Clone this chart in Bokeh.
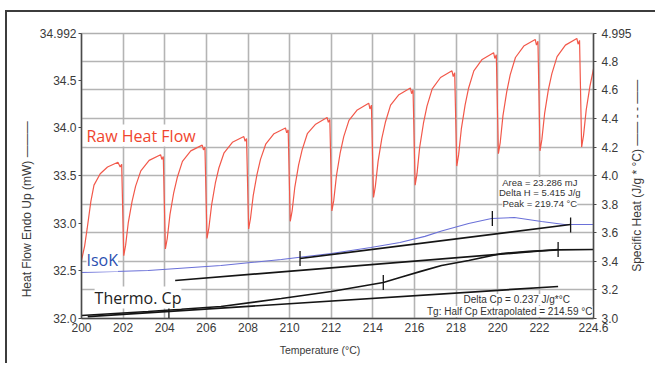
import numpy as np
from bokeh.plotting import figure
from bokeh.models import Range1d, LinearAxis, FixedTicker, Label, Grid
from bokeh.embed import file_html
from bokeh.resources import INLINE

# ---------------- data ----------------
x_ticks = [200, 202, 204, 206, 208, 210, 212, 214, 216, 218, 220, 222, 224.6]
x_labels = ["200", "202", "204", "206", "208", "210", "212", "214", "216", "218", "220", "222", "224.6"]
hf_ticks = [32.0, 32.5, 33.0, 33.5, 34.0, 34.5, 34.992]
hf_labels = ["32.0", "32.5", "33.0", "33.5", "34.0", "34.5", "34.992"]
cp_ticks = [3.0, 3.2, 3.4, 3.6, 3.8, 4.0, 4.2, 4.4, 4.6, 4.8, 4.995]
cp_labels = ["3.0", "3.2", "3.4", "3.6", "3.8", "4.0", "4.2", "4.4", "4.6", "4.8", "4.995"]
cp_grid = [3.2, 3.4, 3.6, 3.8, 4.0, 4.2, 4.4, 4.6, 4.8]

raw_temp = [
    200.00, 200.15, 200.27, 200.45, 200.60, 200.90, 201.25, 201.75, 201.86, 201.93,
    202.03, 202.12, 202.25, 202.43, 202.60, 202.85, 203.25, 203.80, 203.86, 203.93,
    204.03, 204.12, 204.25, 204.43, 204.60, 204.85, 205.25, 205.80, 205.86, 205.93,
    206.03, 206.12, 206.25, 206.43, 206.60, 206.85, 207.25, 207.80, 207.86, 207.93,
    208.03, 208.12, 208.25, 208.43, 208.60, 208.85, 209.25, 209.80, 209.86, 209.93,
    210.03, 210.12, 210.25, 210.43, 210.60, 210.85, 211.25, 211.80, 211.86, 211.93,
    212.03, 212.12, 212.25, 212.43, 212.60, 212.85, 213.25, 213.80, 213.86, 213.93,
    214.03, 214.12, 214.25, 214.43, 214.60, 214.85, 215.25, 215.80, 215.86, 215.93,
    216.03, 216.12, 216.25, 216.43, 216.60, 216.85, 217.25, 217.80, 217.86, 217.93,
    218.03, 218.12, 218.25, 218.43, 218.60, 218.85, 219.25, 219.80, 219.86, 219.93,
    220.03, 220.12, 220.25, 220.43, 220.60, 220.85, 221.25, 221.80, 221.86, 221.93,
    222.03, 222.12, 222.25, 222.43, 222.60, 222.85, 223.25, 223.80, 223.86, 223.93,
    224.03, 224.12, 224.25, 224.43, 224.60,
]
raw_heat_flow = [
    32.61, 32.76, 32.94, 33.23, 33.40, 33.52, 33.59, 33.64, 33.59, 33.62,
    32.66, 32.77, 33.01, 33.23, 33.39, 33.55, 33.66, 33.72, 33.67, 33.70,
    32.73, 32.84, 33.09, 33.32, 33.48, 33.65, 33.76, 33.82, 33.77, 33.80,
    32.84, 32.95, 33.19, 33.42, 33.58, 33.74, 33.85, 33.91, 33.86, 33.89,
    32.94, 33.05, 33.29, 33.51, 33.67, 33.83, 33.94, 34.00, 33.95, 33.98,
    33.02, 33.13, 33.38, 33.61, 33.77, 33.94, 34.04, 34.11, 34.06, 34.09,
    33.13, 33.24, 33.50, 33.74, 33.91, 34.08, 34.19, 34.26, 34.20, 34.24,
    33.27, 33.39, 33.65, 33.89, 34.06, 34.24, 34.35, 34.42, 34.36, 34.40,
    33.40, 33.52, 33.80, 34.05, 34.23, 34.41, 34.53, 34.60, 34.54, 34.58,
    33.60, 33.72, 33.99, 34.24, 34.42, 34.60, 34.72, 34.79, 34.73, 34.77,
    33.73, 33.85, 34.13, 34.38, 34.56, 34.74, 34.86, 34.93, 34.87, 34.91,
    33.76, 33.88, 34.15, 34.40, 34.57, 34.75, 34.87, 34.94, 34.88, 34.92,
    33.80, 33.92, 34.19, 34.44, 34.62,
]

isok_temp = [200.0, 203.2, 206.7, 209.6, 212.0, 213.9, 215.3, 216.5, 217.3, 218.6,
             219.7, 220.8, 222.1, 223.2, 224.6]
isok_cp = [3.322, 3.336, 3.371, 3.413, 3.455, 3.497, 3.532, 3.575, 3.612, 3.665,
           3.700, 3.707, 3.679, 3.658, 3.658]

thermo_temp = [200.0, 203.2, 206.7, 209.6, 212.0, 214.5, 215.3, 216.3, 217.3, 218.6,
               220.2, 221.5, 222.9, 224.6]
thermo_cp = [3.021, 3.049, 3.084, 3.140, 3.189, 3.252, 3.287, 3.330, 3.371, 3.406,
             3.455, 3.470, 3.480, 3.483]

tan_upper_temp = [210.5, 223.5]
tan_upper_cp = [3.420, 3.658]
tan_mid_temp = [204.5, 222.9]
tan_mid_cp = [3.266, 3.483]
tan_low_temp = [200.3, 222.9]
tan_low_cp = [3.013, 3.224]

mark_temp = [204.2, 210.5, 214.5, 219.74, 222.9, 223.5]
mark_cp = [3.049, 3.420, 3.252, 3.700, 3.483, 3.655]

x_title = "Temperature (\u00b0C)"
left_title = "Heat Flow Endo Up (mW)  \u2014\u2014\u2014"
right_title = "Specific Heat (J/g * \u00b0C) \u2014\u2014 - - \u2014\u2014"

# ---------------- figure ----------------
FONT = "Liberation Sans"
NB = "\u00a0"
p = figure(
    frame_width=512, frame_height=285,
    min_border_left=74, min_border_right=62, min_border_top=21, min_border_bottom=45,
    x_range=Range1d(200, 224.6), y_range=Range1d(32.0, 34.992),
    output_backend="svg", toolbar_location=None,
)
p.styles = {"margin-left": "5px", "margin-top": "10px",
            "border-left": "2px solid #3c3c3c", "border-top": "2px solid #3c3c3c"}
p.extra_y_ranges = {"right": Range1d(3.0, 4.995)}
p.background_fill_color = "white"
p.border_fill_color = "white"
p.outline_line_color = "#b0b0b0"
p.outline_line_width = 1.5

# grids
p.xgrid.ticker = FixedTicker(ticks=x_ticks)
p.xgrid.grid_line_color = "#b4b4b4"
p.xgrid.grid_line_width = 1.6
p.ygrid.visible = False
g = Grid(dimension=1, ticker=FixedTicker(ticks=cp_grid), y_range_name="right",
         grid_line_color="#b4b4b4", grid_line_width=1.6)
p.add_layout(g)

def style_axis(ax, ticks, labels, standoff):
    ax.ticker = FixedTicker(ticks=ticks)
    ax.major_label_overrides = dict(zip(ticks, labels))
    ax.axis_line_color = "#4a4a4a"
    ax.axis_line_width = 1.5
    ax.major_tick_line_color = "#4a4a4a"
    ax.major_tick_out = 3
    ax.major_tick_in = 0
    ax.minor_tick_line_color = None
    ax.major_label_text_font = FONT
    ax.major_label_text_font_size = "12px"
    ax.major_label_text_color = "#3a3a3a"
    ax.major_label_standoff = standoff
    ax.axis_label_text_font = FONT
    ax.axis_label_text_font_style = "normal"
    ax.axis_label_text_color = "#3a3a3a"
    ax.axis_label_text_font_size = "12px"

xa = p.xaxis[0]
style_axis(xa, x_ticks, x_labels, 4)
xa.major_tick_out = 0
xa.axis_label = x_title + NB * 12
xa.axis_label_text_font_size = "10.5px"
xa.axis_label_standoff = 9

ya = p.yaxis[0]
style_axis(ya, hf_ticks, hf_labels, 2)
ya.axis_label = left_title + NB * 19
ya.axis_label_standoff = 3

ax_r = LinearAxis(y_range_name="right")
style_axis(ax_r, cp_ticks, cp_labels, 5)
ax_r.axis_label = NB * 14 + right_title
ax_r.axis_label_orientation = np.pi / 2
ax_r.axis_label_align = "start"
ax_r.axis_label_standoff = 2
p.add_layout(ax_r, "right")

# curves
p.line(raw_temp, raw_heat_flow, line_color="#f2584a", line_width=1.2)
p.line(isok_temp, isok_cp, y_range_name="right", line_color="#6a70d8", line_width=1.1)
p.line(tan_upper_temp, tan_upper_cp, y_range_name="right", line_color="#151515", line_width=1.7)
p.line(tan_mid_temp, tan_mid_cp, y_range_name="right", line_color="#151515", line_width=1.7)
p.line(tan_low_temp, tan_low_cp, y_range_name="right", line_color="#151515", line_width=1.7)
p.line(thermo_temp, thermo_cp, y_range_name="right", line_color="#151515", line_width=1.7)
p.scatter(mark_temp, mark_cp, y_range_name="right", marker="dash", angle=np.pi / 2,
          size=15, line_color="#151515", line_width=1.3)

# text
def lab(x, y, t, size, color, font=FONT, align="left", rng="default", bg="white"):
    kw = dict(x=x, y=y, text=t, text_font=font, text_font_size=size, text_color=color,
              text_align=align, text_baseline="middle", background_fill_color=bg)
    if rng != "default":
        kw["y_range_name"] = rng
    p.add_layout(Label(**kw))

lab(200.24, 33.92, "Raw Heat Flow", "16px", "#f0452e", font="Open Sans")
lab(200.24, 32.61, "IsoK", "16px", "#2b4fb0", font="Open Sans")
lab(200.63, 32.22, "Thermo. Cp", "16px", "#222222", font="Open Sans")

lab(222.02, 3.952, "Area = 23.286 mJ", "9.5px", "#333333", align="center", rng="right")
lab(222.02, 3.882, "Delta H = 5.415 J/g", "9.5px", "#333333", align="center", rng="right")
lab(222.02, 3.805, "Peak = 219.74 \u00b0C", "9.5px", "#333333", align="center", rng="right")
lab(220.91, 3.133, "Delta Cp = 0.237 J/g*\u00b0C", "10px", "#333333", align="center", rng="right")
lab(224.55, 3.049, "Tg: Half Cp Extrapolated = 214.59 \u00b0C", "10px", "#333333", align="right", rng="right")

open("out.html", "w").write(file_html(p, INLINE))
